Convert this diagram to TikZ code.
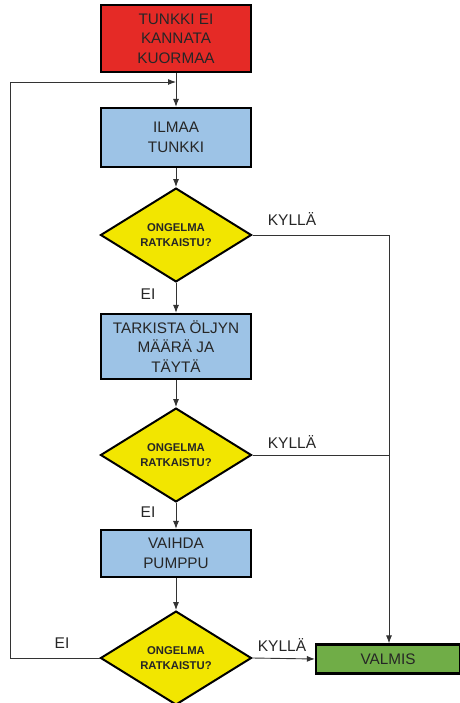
\documentclass[tikz,border=0pt]{standalone}
\usepackage{fontspec}
\setmainfont{Liberation Sans}
\usetikzlibrary{shapes.geometric,arrows.meta}
\definecolor{cred}{HTML}{E52A26}
\definecolor{cblue}{HTML}{9DC3E6}
\definecolor{cyel}{HTML}{F2E600}
\definecolor{cgreen}{HTML}{70AD47}
\begin{document}
\begin{tikzpicture}[x=1pt,y=-1pt,
  box/.style={draw=black,line width=2.2pt,minimum width=150pt,inner sep=0pt,align=center,font=\fontsize{15.3}{19.5}\selectfont,text=black!85},
  dia/.style={diamond,draw=black,line width=2pt,minimum width=151pt,minimum height=89pt,inner sep=0pt,fill=cyel,align=center,font=\bfseries\fontsize{11.3}{14.5}\selectfont,text=black!85},
  conn/.style={draw=black!80,line width=0.9pt},
  arr/.style={conn,-{Latex[length=8pt,width=6pt]}},
  lbl/.style={font=\fontsize{15.5}{17}\selectfont,inner sep=0pt,text=black!85}]
\useasboundingbox (0,0) rectangle (459,703);
\node[box,fill=cred,minimum height=67pt] (start) at (176,38.5) {TUNKKI EI\\KANNATA\\KUORMAA};
\node[box,fill=cblue,minimum height=59pt] (ilmaa) at (176,137.5) {ILMAA\\TUNKKI};
\node[dia] (d1) at (176,235) {ONGELMA\\RATKAISTU?};
\node[box,fill=cblue,minimum height=65pt] (tark) at (176,346.5) {TARKISTA ÖLJYN\\MÄÄRÄ JA\\TÄYTÄ};
\node[dia] (d2) at (176,455) {ONGELMA\\RATKAISTU?};
\node[box,fill=cblue,minimum height=47pt] (vaihda) at (176,553.5) {VAIHDA\\PUMPPU};
\node[dia] (d3) at (176,658) {ONGELMA\\RATKAISTU?};
\node[box,fill=cgreen,minimum width=144pt,minimum height=29pt] (valmis) at (388,659) {VALMIS};
\coordinate (j) at (176,82);
\coordinate (ll) at (10,658);
\coordinate (lt) at (10,82);
\coordinate (r1) at (389,235);
\coordinate (r2) at (389,455);
\draw[arr] (start) -- (ilmaa);
\draw[arr] (ilmaa) -- (d1);
\draw[arr] (d1) -- (tark);
\draw[arr] (tark) -- (d2);
\draw[arr] (d2) -- (vaihda);
\draw[arr] (vaihda) -- (d3);
\draw[arr] (d3.west) -- (ll) -- (lt) -- (j);
\draw[arr] (d1.east) -- (r1) -- (valmis.north -| r1);
\draw[conn] (d2.east) -- (r2);
\draw[arr] (d3.east) -- (valmis.west);
\node[lbl] (k1) at (292,219) {KYLLÄ};
\node[lbl] (e1) at (148,294) {EI};
\node[lbl] (k2) at (292,442) {KYLLÄ};
\node[lbl] (e2) at (148,512) {EI};
\node[lbl] (e3) at (62,643) {EI};
\node[lbl] (k3) at (282,645) {KYLLÄ};
\end{tikzpicture}
\end{document}
